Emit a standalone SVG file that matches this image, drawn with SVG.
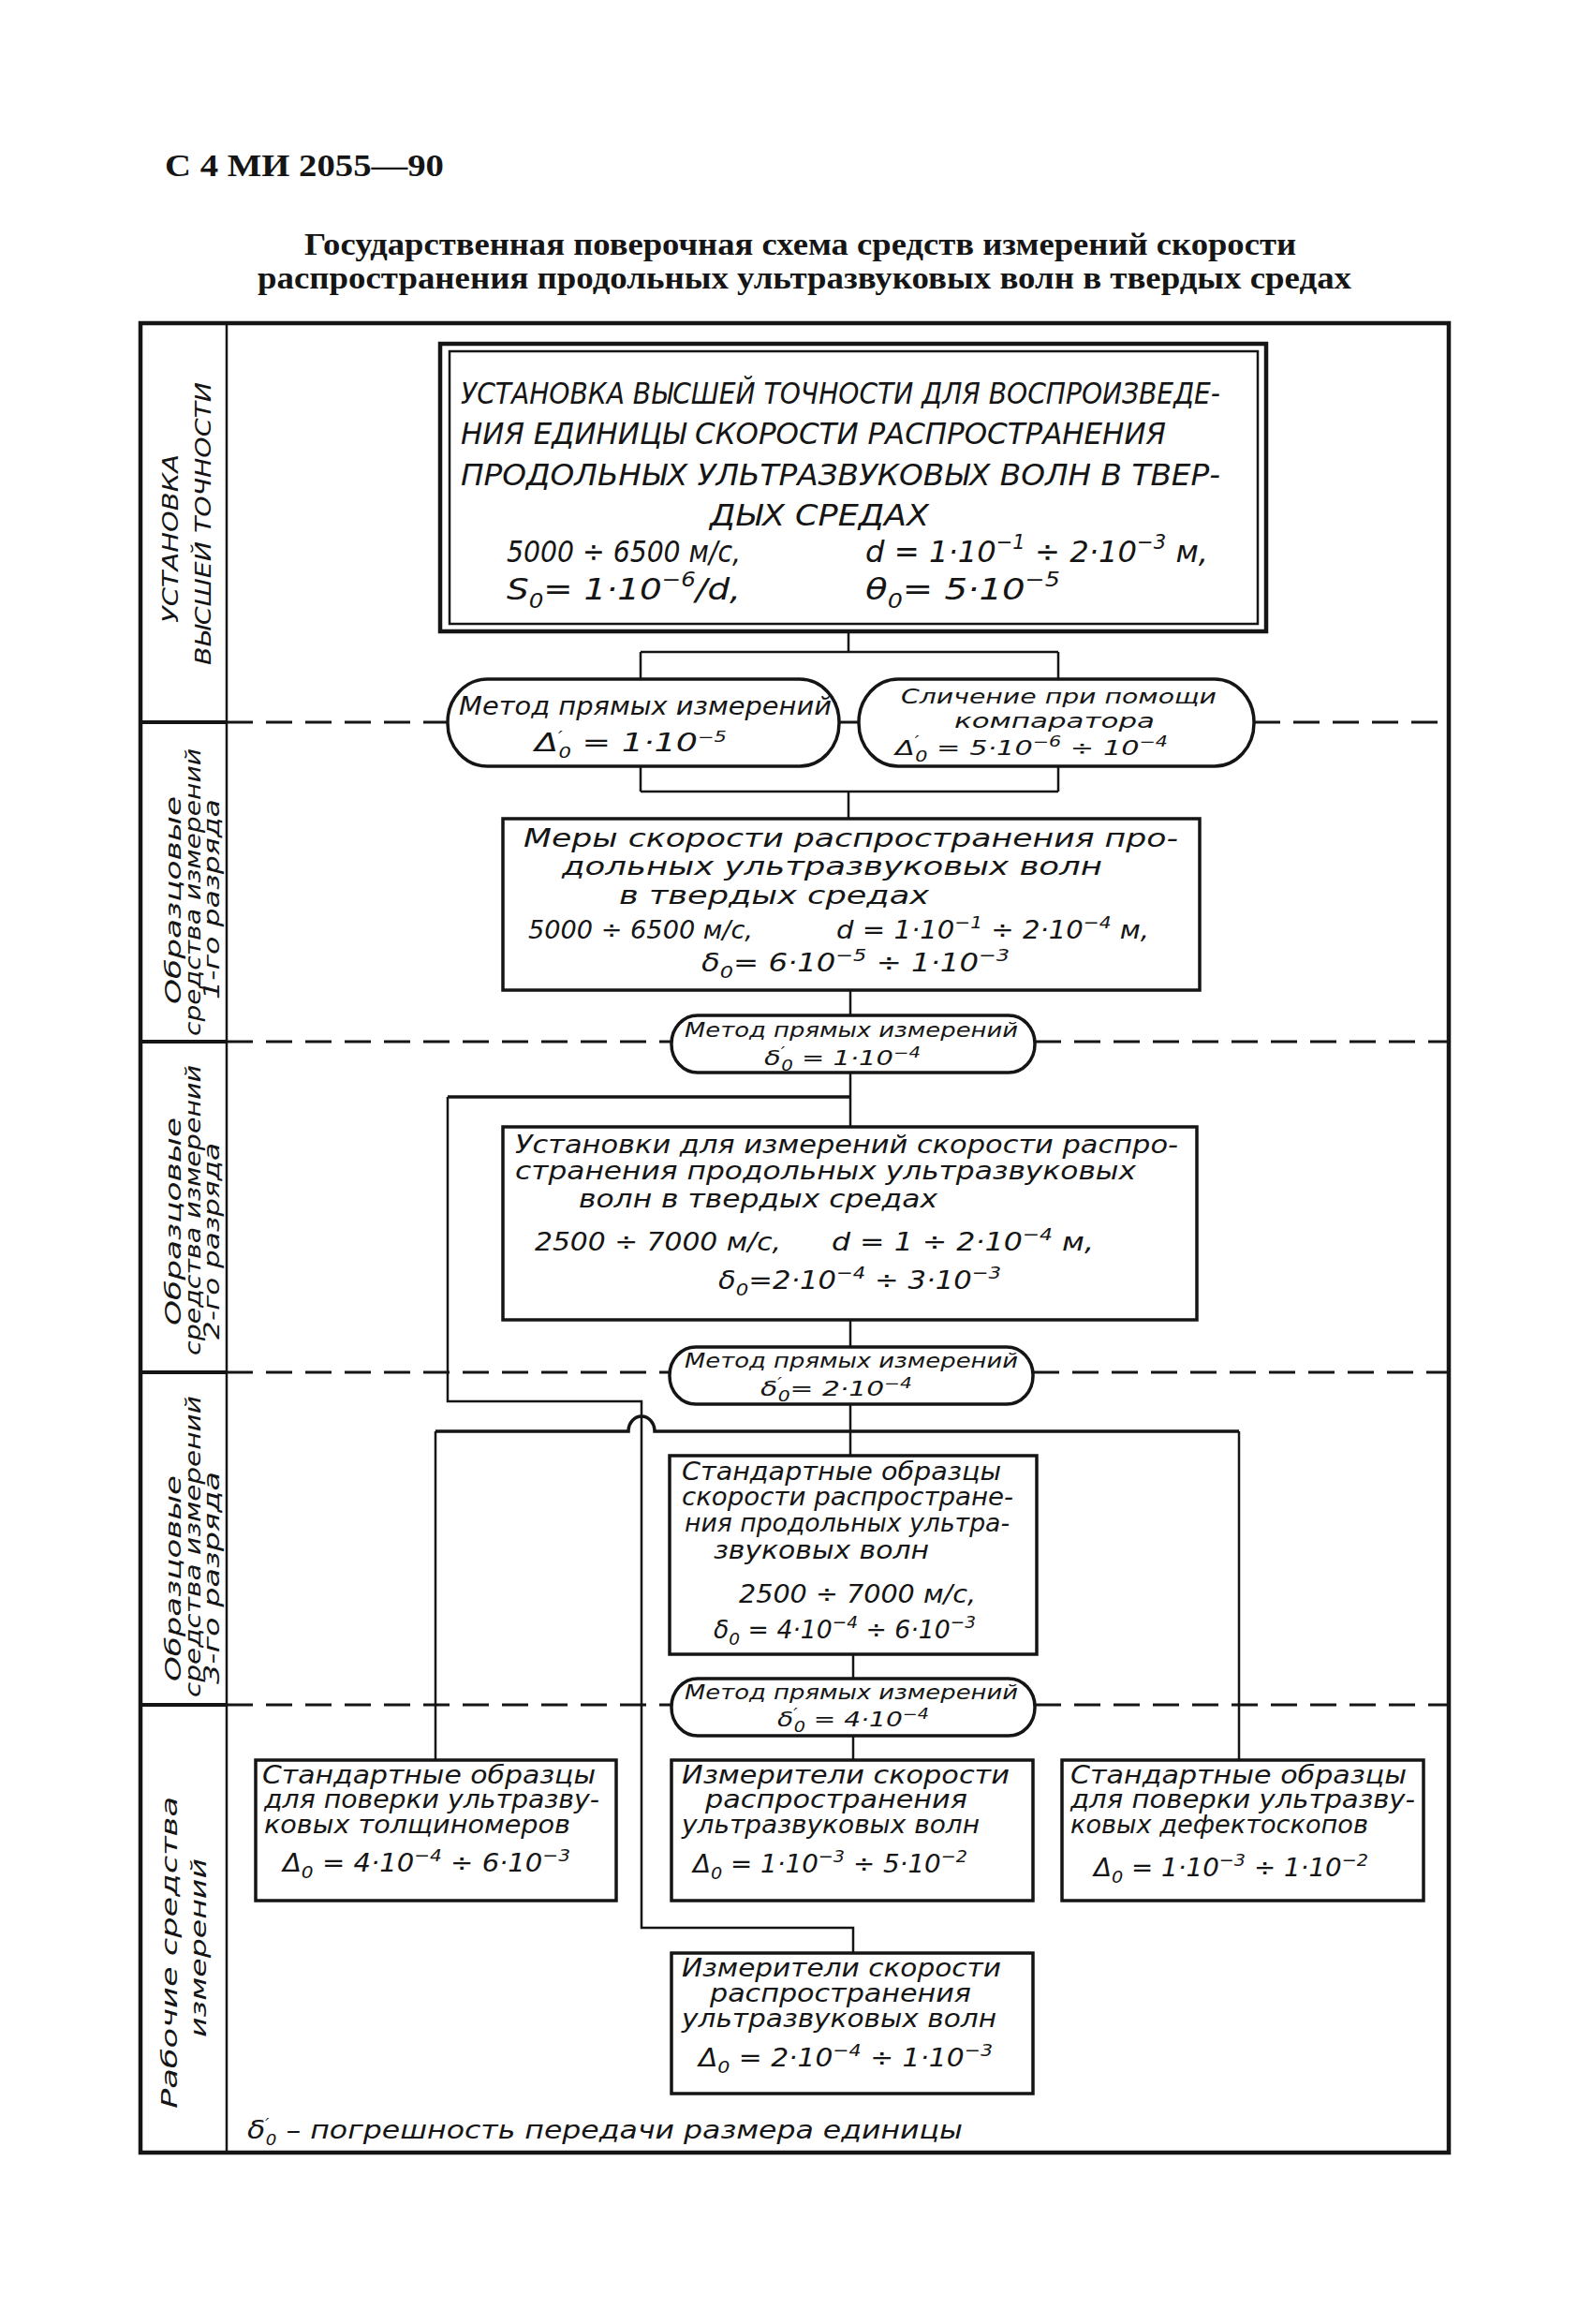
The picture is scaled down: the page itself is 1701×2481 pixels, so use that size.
<svg xmlns="http://www.w3.org/2000/svg" width="1701" height="2481" viewBox="0 0 1701 2481">
<style>
text { fill:#151515; }
.hdr { font-family:"Liberation Serif", serif; font-weight:bold; font-size:33px; }
.ttl { font-family:"Liberation Serif", serif; font-weight:bold; font-size:33px; }
.t { font-family:"DejaVu Sans", "Liberation Sans", sans-serif; font-style:italic; font-size:26px; }
.tp { font-family:"DejaVu Sans", "Liberation Sans", sans-serif; font-style:italic; font-size:22px; }
.tm { font-family:"DejaVu Sans", "Liberation Sans", sans-serif; font-style:italic; font-size:32px; }
.vl { font-family:"DejaVu Sans", "Liberation Sans", sans-serif; font-style:italic; font-size:23px; }
.sp { font-size:18px; }
.sb { font-size:18px; }
.ps { font-size:15px; }
.sp2 { font-size:21px; }
.frame { fill:none; stroke:#151515; stroke-width:4.5; }
.col { fill:none; stroke:#151515; stroke-width:2.5; }
.sep { fill:none; stroke:#151515; stroke-width:4; }
.dash { fill:none; stroke:#151515; stroke-width:3; stroke-dasharray:28 14; }
.box { fill:#fff; stroke:#151515; stroke-width:3.5; }
.pill { fill:#fff; stroke:#151515; stroke-width:3.5; }
.conn { fill:none; stroke:#151515; stroke-width:2.5; }
.connb { fill:none; stroke:#151515; stroke-width:3.5; }
</style>
<rect width="1701" height="2481" fill="#fff"/>

<g id="header">
<text class="hdr" x="176" y="188" textLength="298" lengthAdjust="spacingAndGlyphs">С 4 МИ 2055—90</text>
<text class="ttl" x="325" y="272" textLength="1059" lengthAdjust="spacingAndGlyphs">Государственная поверочная схема средств измерений скорости</text>
<text class="ttl" x="275" y="308" textLength="1168" lengthAdjust="spacingAndGlyphs">распространения продольных ультразвуковых волн в твердых средах</text>
</g>

<g id="frame">
<rect class="frame" x="150" y="345" width="1397" height="1953"/>
<line class="col" x1="242" y1="345" x2="242" y2="2298"/>
<path class="sep" d="M150,771 H242 M150,1112 H242 M150,1465 H242 M150,1820 H242"/>
<path class="dash" d="M242,771 H478 M896,771 H917 M1339,771 H1547 M242,1112 H717 M1105,1112 H1547 M242,1465 H715 M1103,1465 H1547 M242,1820 H717 M1105,1820 H1547"/>
</g>

<g id="band-labels">
<text class="vl" font-size="29" transform="translate(190,575) rotate(-90)" x="-90" y="0" textLength="180" lengthAdjust="spacingAndGlyphs">УСТАНОВКА</text>
<text class="vl" font-size="29" transform="translate(225,559) rotate(-90)" x="-151" y="0" textLength="302" lengthAdjust="spacingAndGlyphs">ВЫСШЕЙ ТОЧНОСТИ</text>
<text class="vl" transform="translate(193,961) rotate(-90)" x="-111" y="0" textLength="222" lengthAdjust="spacingAndGlyphs">Образцовые</text>
<text class="vl" transform="translate(214,953) rotate(-90)" x="-153" y="0" textLength="307" lengthAdjust="spacingAndGlyphs">средства измерений</text>
<text class="vl" transform="translate(234,960) rotate(-90)" x="-107" y="0" textLength="214" lengthAdjust="spacingAndGlyphs">1-го разряда</text>
<text class="vl" transform="translate(193,1304) rotate(-90)" x="-111" y="0" textLength="222" lengthAdjust="spacingAndGlyphs">Образцовые</text>
<text class="vl" transform="translate(214,1292) rotate(-90)" x="-155" y="0" textLength="310" lengthAdjust="spacingAndGlyphs">средства измерений</text>
<text class="vl" transform="translate(234,1325) rotate(-90)" x="-105" y="0" textLength="210" lengthAdjust="spacingAndGlyphs">2-го разряда</text>
<text class="vl" transform="translate(193,1685) rotate(-90)" x="-110" y="0" textLength="220" lengthAdjust="spacingAndGlyphs">Образцовые</text>
<text class="vl" transform="translate(214,1651) rotate(-90)" x="-161" y="0" textLength="322" lengthAdjust="spacingAndGlyphs">средства измерений</text>
<text class="vl" transform="translate(234,1685) rotate(-90)" x="-113" y="0" textLength="227" lengthAdjust="spacingAndGlyphs">3-го разряда</text>
<text class="vl" font-size="27" transform="translate(189,2085) rotate(-90)" x="-166" y="0" textLength="333" lengthAdjust="spacingAndGlyphs">Рабочие  средства</text>
<text class="vl" font-size="27" transform="translate(220,2080) rotate(-90)" x="-95" y="0" textLength="191" lengthAdjust="spacingAndGlyphs">измерений</text>
</g>

<g id="connectors">
<path class="conn" d="M906,674 V696 M684,696 H1130 M684,696 V725 M1130,696 V725"/>
<path class="conn" d="M684,818 V845 M1130,818 V845 M684,845 H1130 M906,845 V874"/>
<path class="conn" d="M908,1057 V1084"/>
<path class="conn" d="M908,1145 V1203"/>
<path class="connb" d="M908,1171 H478"/>
<path class="conn" d="M478,1171 V1496 H685 V2058 H911 V2085"/>
<path class="conn" d="M908,1409 V1438"/>
<path class="conn" d="M908,1499 V1554"/>
<path class="connb" d="M465,1528 H671 A14,16 0 0 1 699,1528 H1323"/>
<path class="conn" d="M465,1528 V1879 M1323,1528 V1879"/>
<path class="conn" d="M911,1766 V1792"/>
<path class="conn" d="M911,1853 V1879"/>
</g>

<g id="node-main">
<rect x="470" y="367" width="882" height="307" fill="#fff" stroke="#151515" stroke-width="4.5"/>
<rect x="480" y="375" width="863" height="291" fill="none" stroke="#151515" stroke-width="2.5"/>
<text class="tm" x="492" y="431" textLength="811" lengthAdjust="spacingAndGlyphs">УСТАНОВКА ВЫСШЕЙ ТОЧНОСТИ ДЛЯ ВОСПРОИЗВЕДЕ-</text>
<text class="tm" x="492" y="474" textLength="753" lengthAdjust="spacingAndGlyphs">НИЯ ЕДИНИЦЫ СКОРОСТИ РАСПРОСТРАНЕНИЯ</text>
<text class="tm" x="492" y="518" textLength="811" lengthAdjust="spacingAndGlyphs">ПРОДОЛЬНЫХ УЛЬТРАЗВУКОВЫХ ВОЛН В ТВЕР-</text>
<text class="tm" x="758" y="561" textLength="234" lengthAdjust="spacingAndGlyphs">ДЫХ  СРЕДАХ</text>
<text class="tm" x="541" y="600" textLength="250" lengthAdjust="spacingAndGlyphs">5000 ÷ 6500 м/с,</text>
<text class="tm" x="924" y="600" textLength="366" lengthAdjust="spacingAndGlyphs">d = 1·10<tspan class="sp2" dy="-14">−1</tspan><tspan dy="14"> ÷ 2·10</tspan><tspan class="sp2" dy="-14">−3</tspan><tspan dy="14"> м,</tspan></text>
<text class="tm" x="541" y="640" textLength="250" lengthAdjust="spacingAndGlyphs">S<tspan class="sp2" dy="9">0</tspan><tspan dy="-9">= 1·10</tspan><tspan class="sp2" dy="-14">−6</tspan><tspan dy="14">/d,</tspan></text>
<text class="tm" x="924" y="640" textLength="208" lengthAdjust="spacingAndGlyphs">θ<tspan class="sp2" dy="9">0</tspan><tspan dy="-9">= 5·10</tspan><tspan class="sp2" dy="-14">−5</tspan></text>
</g>

<g id="node-method1">
<rect class="pill" x="478" y="725" width="418" height="93" rx="42" ry="46"/>
<text class="t" x="490" y="763" font-size="25" textLength="398" lengthAdjust="spacingAndGlyphs">Метод прямых измерений</text>
<text class="t" x="571" y="802" font-size="26" textLength="205" lengthAdjust="spacingAndGlyphs">Δ<tspan class="ps" dy="-10">′</tspan><tspan class="ps" dx="-3" dy="17">0</tspan><tspan dy="-7"> = 1·10</tspan><tspan class="ps" dy="-10">−5</tspan></text>
</g>

<g id="node-comparator">
<rect class="pill" x="917" y="725" width="422" height="93" rx="42" ry="46"/>
<text class="tp" x="962" y="751" textLength="337" lengthAdjust="spacingAndGlyphs">Сличение при помощи</text>
<text class="tp" x="1019" y="777" textLength="214" lengthAdjust="spacingAndGlyphs">компаратора</text>
<text class="tp" x="956" y="806" font-size="24" textLength="291" lengthAdjust="spacingAndGlyphs">Δ<tspan class="ps" dy="-9">′</tspan><tspan class="ps" dx="-3" dy="16">0</tspan><tspan dy="-7"> = 5·10</tspan><tspan class="ps" dy="-9">−6</tspan><tspan dy="9"> ÷ 10</tspan><tspan class="ps" dy="-9">−4</tspan></text>
</g>

<g id="node-measures">
<rect class="box" x="537" y="874" width="744" height="183"/>
<text class="t" x="559" y="904" textLength="699" lengthAdjust="spacingAndGlyphs">Меры скорости распространения про-</text>
<text class="t" x="600" y="934" textLength="577" lengthAdjust="spacingAndGlyphs">дольных ультразвуковых волн</text>
<text class="t" x="661" y="965" textLength="331" lengthAdjust="spacingAndGlyphs">в твердых средах</text>
<text class="t" x="564" y="1002" textLength="240" lengthAdjust="spacingAndGlyphs">5000 ÷ 6500 м/с,</text>
<text class="t" x="893" y="1002" textLength="334" lengthAdjust="spacingAndGlyphs">d = 1·10<tspan class="sp" dy="-11">−1</tspan><tspan dy="11"> ÷ 2·10</tspan><tspan class="sp" dy="-11">−4</tspan><tspan dy="11"> м,</tspan></text>
<text class="t" x="749" y="1037" textLength="329" lengthAdjust="spacingAndGlyphs">δ<tspan class="sb" dy="7">0</tspan><tspan dy="-7">= 6·10</tspan><tspan class="sp" dy="-11">−5</tspan><tspan dy="11"> ÷ 1·10</tspan><tspan class="sp" dy="-11">−3</tspan></text>
</g>

<g id="node-method2">
<rect class="pill" x="717" y="1084" width="388" height="61" rx="28" ry="30"/>
<text class="tp" x="731" y="1107" textLength="356" lengthAdjust="spacingAndGlyphs">Метод прямых измерений</text>
<text class="tp" x="816" y="1137" textLength="167" lengthAdjust="spacingAndGlyphs">δ<tspan class="ps" dy="-8">′</tspan><tspan class="ps" dx="-3" dy="14">0</tspan><tspan dy="-6"> = 1·10</tspan><tspan class="ps" dy="-8">−4</tspan></text>
</g>

<g id="node-installations">
<rect class="box" x="537" y="1203" width="741" height="206"/>
<text class="t" x="550" y="1231" textLength="708" lengthAdjust="spacingAndGlyphs">Установки для измерений скорости распро-</text>
<text class="t" x="550" y="1259" textLength="663" lengthAdjust="spacingAndGlyphs">странения продольных ультразвуковых</text>
<text class="t" x="618" y="1289" textLength="383" lengthAdjust="spacingAndGlyphs">волн в твердых средах</text>
<text class="t" x="571" y="1335" textLength="263" lengthAdjust="spacingAndGlyphs">2500 ÷ 7000 м/с,</text>
<text class="t" x="888" y="1335" textLength="280" lengthAdjust="spacingAndGlyphs">d = 1 ÷ 2·10<tspan class="sp" dy="-11">−4</tspan><tspan dy="11"> м,</tspan></text>
<text class="t" x="767" y="1376" textLength="302" lengthAdjust="spacingAndGlyphs">δ<tspan class="sb" dy="7">0</tspan><tspan dy="-7">=2·10</tspan><tspan class="sp" dy="-11">−4</tspan><tspan dy="11"> ÷ 3·10</tspan><tspan class="sp" dy="-11">−3</tspan></text>
</g>

<g id="node-method3">
<rect class="pill" x="715" y="1438" width="388" height="61" rx="28" ry="30"/>
<text class="tp" x="731" y="1460" textLength="356" lengthAdjust="spacingAndGlyphs">Метод прямых измерений</text>
<text class="tp" x="812" y="1490" textLength="162" lengthAdjust="spacingAndGlyphs">δ<tspan class="ps" dy="-8">′</tspan><tspan class="ps" dx="-3" dy="14">0</tspan><tspan dy="-6">= 2·10</tspan><tspan class="ps" dy="-8">−4</tspan></text>
</g>

<g id="node-std-samples">
<rect class="box" x="715" y="1554" width="392" height="212"/>
<text class="t" x="728" y="1580" textLength="341" lengthAdjust="spacingAndGlyphs">Стандартные образцы</text>
<text class="t" x="728" y="1607" textLength="354" lengthAdjust="spacingAndGlyphs">скорости распростране-</text>
<text class="t" x="731" y="1635" textLength="347" lengthAdjust="spacingAndGlyphs">ния продольных ультра-</text>
<text class="t" x="762" y="1664" textLength="230" lengthAdjust="spacingAndGlyphs">звуковых волн</text>
<text class="t" x="789" y="1711" textLength="253" lengthAdjust="spacingAndGlyphs">2500 ÷ 7000 м/с,</text>
<text class="t" x="762" y="1749" textLength="280" lengthAdjust="spacingAndGlyphs">δ<tspan class="sb" dy="7">0</tspan><tspan dy="-7"> = 4·10</tspan><tspan class="sp" dy="-11">−4</tspan><tspan dy="11"> ÷ 6·10</tspan><tspan class="sp" dy="-11">−3</tspan></text>
</g>

<g id="node-method4">
<rect class="pill" x="717" y="1792" width="388" height="61" rx="28" ry="30"/>
<text class="tp" x="731" y="1814" textLength="356" lengthAdjust="spacingAndGlyphs">Метод прямых измерений</text>
<text class="tp" x="830" y="1843" textLength="162" lengthAdjust="spacingAndGlyphs">δ<tspan class="ps" dy="-8">′</tspan><tspan class="ps" dx="-3" dy="14">0</tspan><tspan dy="-6"> = 4·10</tspan><tspan class="ps" dy="-8">−4</tspan></text>
</g>

<g id="node-thickness">
<rect class="box" x="273" y="1879" width="385" height="150"/>
<text class="t" x="280" y="1904" textLength="356" lengthAdjust="spacingAndGlyphs">Стандартные образцы</text>
<text class="t" x="282" y="1930" textLength="358" lengthAdjust="spacingAndGlyphs">для поверки ультразву-</text>
<text class="t" x="282" y="1957" textLength="327" lengthAdjust="spacingAndGlyphs">ковых толщиномеров</text>
<text class="t" x="302" y="1998" textLength="307" lengthAdjust="spacingAndGlyphs">Δ<tspan class="sb" dy="7">0</tspan><tspan dy="-7"> = 4·10</tspan><tspan class="sp" dy="-11">−4</tspan><tspan dy="11"> ÷ 6·10</tspan><tspan class="sp" dy="-11">−3</tspan></text>
</g>

<g id="node-meters1">
<rect class="box" x="717" y="1879" width="386" height="150"/>
<text class="t" x="728" y="1904" textLength="350" lengthAdjust="spacingAndGlyphs">Измерители скорости</text>
<text class="t" x="753" y="1930" textLength="280" lengthAdjust="spacingAndGlyphs">распространения</text>
<text class="t" x="728" y="1957" textLength="318" lengthAdjust="spacingAndGlyphs">ультразвуковых волн</text>
<text class="t" x="740" y="1999" textLength="293" lengthAdjust="spacingAndGlyphs">Δ<tspan class="sb" dy="7">0</tspan><tspan dy="-7"> = 1·10</tspan><tspan class="sp" dy="-11">−3</tspan><tspan dy="11"> ÷ 5·10</tspan><tspan class="sp" dy="-11">−2</tspan></text>
</g>

<g id="node-flaw">
<rect class="box" x="1134" y="1879" width="386" height="150"/>
<text class="t" x="1143" y="1904" textLength="359" lengthAdjust="spacingAndGlyphs">Стандартные образцы</text>
<text class="t" x="1143" y="1930" textLength="368" lengthAdjust="spacingAndGlyphs">для поверки ультразву-</text>
<text class="t" x="1143" y="1957" textLength="318" lengthAdjust="spacingAndGlyphs">ковых дефектоскопов</text>
<text class="t" x="1168" y="2003" textLength="293" lengthAdjust="spacingAndGlyphs">Δ<tspan class="sb" dy="7">0</tspan><tspan dy="-7"> = 1·10</tspan><tspan class="sp" dy="-11">−3</tspan><tspan dy="11"> ÷ 1·10</tspan><tspan class="sp" dy="-11">−2</tspan></text>
</g>

<g id="node-meters2">
<rect class="box" x="717" y="2085" width="386" height="150"/>
<text class="t" x="728" y="2110" textLength="341" lengthAdjust="spacingAndGlyphs">Измерители скорости</text>
<text class="t" x="758" y="2137" textLength="279" lengthAdjust="spacingAndGlyphs">распространения</text>
<text class="t" x="728" y="2164" textLength="336" lengthAdjust="spacingAndGlyphs">ультразвуковых волн</text>
<text class="t" x="746" y="2206" textLength="314" lengthAdjust="spacingAndGlyphs">Δ<tspan class="sb" dy="7">0</tspan><tspan dy="-7"> = 2·10</tspan><tspan class="sp" dy="-11">−4</tspan><tspan dy="11"> ÷ 1·10</tspan><tspan class="sp" dy="-11">−3</tspan></text>
</g>

<g id="footnote">
<text class="t" x="264" y="2283" font-size="27" textLength="764" lengthAdjust="spacingAndGlyphs">δ<tspan class="ps" dy="-10">′</tspan><tspan class="ps" dx="-3" dy="17">0</tspan><tspan dy="-7"> – погрешность передачи размера единицы</tspan></text>
</g>
</svg>
